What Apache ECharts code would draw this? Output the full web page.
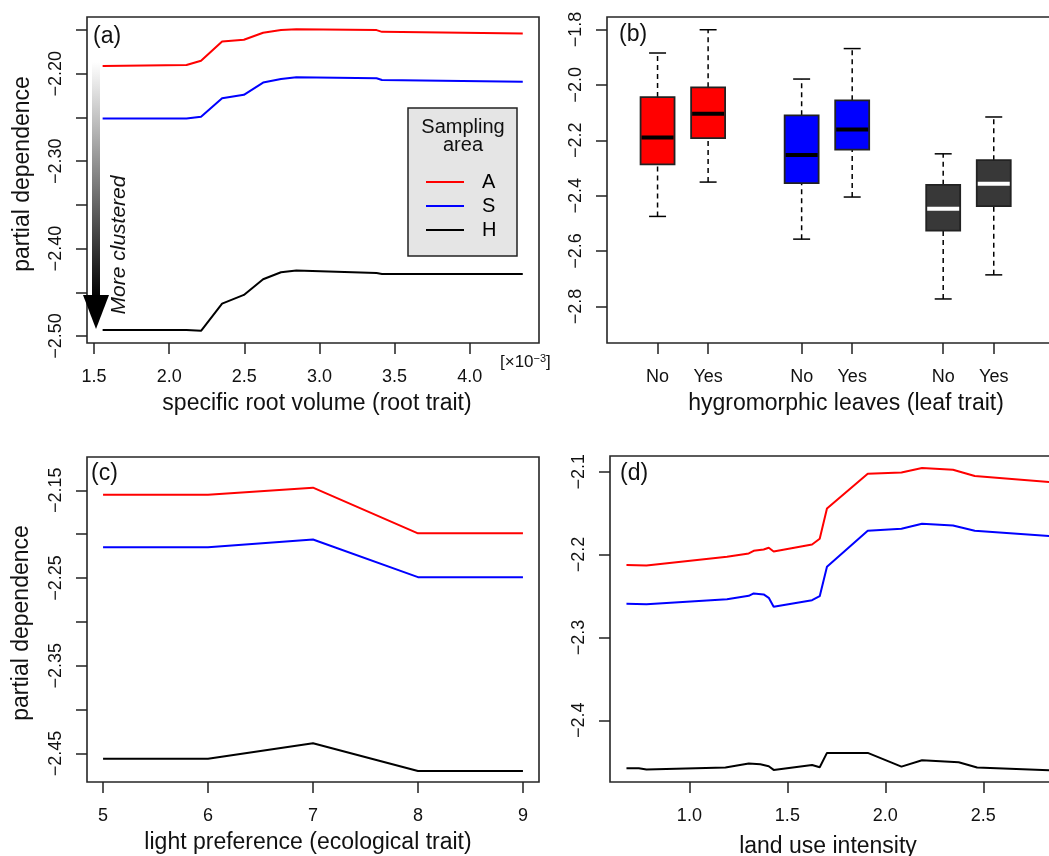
<!DOCTYPE html>
<html>
<head>
<meta charset="utf-8">
<script src="https://cdn.jsdelivr.net/npm/echarts@6/dist/echarts.min.js"></script>
<style>
  html, body { margin: 0; padding: 0; background: #fff; }
  #chart { width: 1049px; height: 856px; }
</style>
</head>
<body>
<div id="chart"></div>
<script>
// (a) specific root volume, x in units of 1e-3
var rootX = [1.557, 2.115, 2.212, 2.352, 2.497, 2.625, 2.744, 2.846, 3.380, 3.416, 4.353];
var rootA = [-2.191, -2.190, -2.185, -2.163, -2.161, -2.153, -2.150, -2.149, -2.150, -2.152, -2.154];
var rootS = [-2.251, -2.251, -2.249, -2.228, -2.224, -2.210, -2.206, -2.204, -2.205, -2.207, -2.209];
var rootH = [-2.493, -2.493, -2.494, -2.463, -2.453, -2.435, -2.427, -2.425, -2.428, -2.429, -2.429];
var rootXTicks = [1.5, 2.0, 2.5, 3.0, 3.5, 4.0];
var rootYTicks = [-2.50, -2.45, -2.40, -2.35, -2.30, -2.25, -2.20, -2.15];
var rootYLabels = [-2.50, -2.40, -2.30, -2.20];

// (b) hygromorphic leaves, boxplots per sampling area
var leafPos = [1, 2, 3.85, 4.85, 6.65, 7.65];
var leafLabels = ['No', 'Yes', 'No', 'Yes', 'No', 'Yes'];
var leafMin = [-2.475, -2.351, -2.557, -2.405, -2.773, -2.686];
var leafQ1 = [-2.287, -2.192, -2.355, -2.234, -2.526, -2.438];
var leafMed = [-2.190, -2.104, -2.253, -2.161, -2.447, -2.357];
var leafQ3 = [-2.044, -2.009, -2.110, -2.056, -2.361, -2.272];
var leafMax = [-1.885, -1.801, -1.979, -1.869, -2.249, -2.116];
var leafYTicks = [-2.8, -2.6, -2.4, -2.2, -2.0, -1.8];

// (c) light preference
var lightX = [5, 6, 7, 8, 9];
var lightA = [-2.155, -2.155, -2.147, -2.199, -2.199];
var lightS = [-2.215, -2.215, -2.206, -2.249, -2.249];
var lightH = [-2.456, -2.456, -2.4385, -2.470, -2.470];
var lightYTicks = [-2.45, -2.40, -2.35, -2.30, -2.25, -2.20, -2.15];
var lightYLabels = [-2.45, -2.35, -2.25, -2.15];

// (d) land use intensity
var landX = [0.679, 0.781, 1.192, 1.303, 1.328, 1.379, 1.405, 1.430, 1.626, 1.665, 1.702, 1.910, 2.082, 2.187, 2.345, 2.456, 2.84];
var landA = [-2.2127, -2.2131, -2.2027, -2.1986, -2.1954, -2.1938, -2.1918, -2.1962, -2.1878, -2.1809, -2.1443, -2.1024, -2.1008, -2.0956, -2.0976, -2.1052, -2.1125];
var landS = [-2.2594, -2.2598, -2.2538, -2.2498, -2.2469, -2.2481, -2.2522, -2.2630, -2.2550, -2.2502, -2.2147, -2.1713, -2.1688, -2.1628, -2.1648, -2.1713, -2.1775];
var landHX = [0.679, 0.742, 0.781, 1.184, 1.303, 1.362, 1.405, 1.430, 1.626, 1.665, 1.702, 1.910, 2.082, 2.187, 2.374, 2.468, 2.84];
var landH = [-2.4579, -2.4579, -2.4595, -2.4571, -2.4523, -2.4531, -2.4555, -2.4599, -2.4539, -2.4567, -2.4394, -2.4394, -2.4559, -2.4482, -2.4506, -2.4571, -2.4604];
var landXTicks = [1.0, 1.5, 2.0, 2.5];
var landYTicks = [-2.4, -2.3, -2.2, -2.1];

var FONT = 'Liberation Sans, Arial, Helvetica, sans-serif';
var areaColors = {A: '#ff0000', S: '#0000ff', H: '#000000'};
var boxFill = ['#ff0000', '#ff0000', '#0000ff', '#0000ff', '#383838', '#383838'];
var boxMedian = ['#000', '#000', '#000', '#000', '#fff', '#fff'];

function fmt(d) {
    return function (v) { return v.toFixed(d).replace('-', '\u2212'); };
}

function pairs(xs, ys) {
    return xs.map(function (x, i) { return [x, ys[i]]; });
}

var tickStyle = {show: true, length: 11, lineStyle: {color: '#222', width: 1.5}};

function xAxis(grid, min, max, ticks, formatter) {
    return {
        type: 'value', gridIndex: grid, min: min, max: max,
        axisLine: {show: false}, splitLine: {show: false},
        axisTick: Object.assign({customValues: ticks}, tickStyle),
        axisLabel: {customValues: ticks, formatter: formatter, fontSize: 18, fontFamily: FONT, color: '#111', margin: 25}
    };
}

function yAxis(grid, min, max, ticks, labels, formatter) {
    return {
        type: 'value', gridIndex: grid, min: min, max: max,
        axisLine: {show: false}, splitLine: {show: false},
        axisTick: Object.assign({customValues: ticks}, tickStyle),
        axisLabel: {customValues: labels, formatter: formatter, rotate: 90, fontSize: 18, fontFamily: FONT, color: '#111', margin: 22}
    };
}

function lineSeries(name, grid, xs, ys) {
    return {
        name: name, type: 'line', xAxisIndex: grid, yAxisIndex: grid,
        data: pairs(xs, ys), showSymbol: false, symbol: 'none',
        color: areaColors[name],
        lineStyle: {width: 2, color: areaColors[name]},
        z: 3
    };
}

function renderBox(params, api) {
    var i = params.dataIndex;
    var x = api.value(0);
    var lo = api.coord([x, api.value(1)]);
    var q1 = api.coord([x, api.value(2)]);
    var md = api.coord([x, api.value(3)]);
    var q3 = api.coord([x, api.value(4)]);
    var hi = api.coord([x, api.value(5)]);
    var half = api.size([0.336, 0])[0];
    var cap = half / 2;
    var dash = {stroke: '#000', lineWidth: 1.5, lineDash: [5, 4]};
    var solid = {stroke: '#000', lineWidth: 1.5};
    return {
        type: 'group',
        children: [
            {type: 'line', shape: {x1: lo[0], y1: lo[1], x2: q1[0], y2: q1[1]}, style: dash},
            {type: 'line', shape: {x1: q3[0], y1: q3[1], x2: hi[0], y2: hi[1]}, style: dash},
            {type: 'line', shape: {x1: lo[0] - cap, y1: lo[1], x2: lo[0] + cap, y2: lo[1]}, style: solid},
            {type: 'line', shape: {x1: hi[0] - cap, y1: hi[1], x2: hi[0] + cap, y2: hi[1]}, style: solid},
            {type: 'rect', shape: {x: q3[0] - half, y: q3[1], width: 2 * half, height: q1[1] - q3[1]},
             style: {fill: boxFill[i], stroke: '#222', lineWidth: 1.8}},
            {type: 'line', shape: {x1: md[0] - half + 1, y1: md[1], x2: md[0] + half - 1, y2: md[1]},
             style: {stroke: boxMedian[i], lineWidth: 4}}
        ]
    };
}

var leafData = leafPos.map(function (p, i) {
    return [p, leafMin[i], leafQ1[i], leafMed[i], leafQ3[i], leafMax[i]];
});

var gridStyle = {show: true, borderColor: '#262626', borderWidth: 1.6, backgroundColor: 'transparent', outerBoundsMode: 'none'};

function text(str, x, y, size, extra) {
    return {
        type: 'text', x: x, y: y,
        style: Object.assign({text: str, font: size + 'px ' + FONT, fill: '#111', align: 'center', verticalAlign: 'middle'}, extra || {})
    };
}

var option = {
    animation: false,
    backgroundColor: '#fff',
    grid: [
        Object.assign({left: 87, top: 17, width: 452, height: 326}, gridStyle),
        Object.assign({left: 607, top: 17, width: 455, height: 326}, gridStyle),
        Object.assign({left: 87, top: 457, width: 452, height: 325}, gridStyle),
        Object.assign({left: 610, top: 456, width: 460, height: 326}, gridStyle)
    ],
    xAxis: [
        xAxis(0, 1.453, 4.461, rootXTicks, fmt(1)),
        xAxis(1, 0, 9, leafPos, function (v) {
            var k = 0;
            leafPos.forEach(function (p, i) { if (Math.abs(p - v) < Math.abs(leafPos[k] - v)) k = i; });
            return leafLabels[k];
        }),
        xAxis(2, 4.847, 9.153, lightX, fmt(0)),
        xAxis(3, 0.595, 2.942, landXTicks, fmt(1))
    ],
    yAxis: [
        yAxis(0, -2.508, -2.135, rootYTicks, rootYLabels, fmt(2)),
        yAxis(1, -2.932, -1.755, leafYTicks, leafYTicks, fmt(1)),
        yAxis(2, -2.4826, -2.112, lightYTicks, lightYLabels, fmt(2)),
        yAxis(3, -2.4745, -2.081, landYTicks, landYTicks, fmt(1))
    ],
    legend: {
        data: ['A', 'S', 'H'],
        orient: 'vertical', left: 426, top: 172, padding: 0,
        icon: 'rect', itemWidth: 38, itemHeight: 2, itemGap: 4,
        itemStyle: {borderWidth: 0},
        selectedMode: false,
        textStyle: {fontSize: 20, fontFamily: FONT, color: '#000', lineHeight: 20, padding: [0, 0, 0, 13]},
        z: 6
    },
    graphic: [
        // legend frame for panel (a)
        {type: 'rect', shape: {x: 408, y: 108, width: 109, height: 148},
         style: {fill: '#e5e5e5', stroke: '#222', lineWidth: 1.5}, z: 5},
        Object.assign(text('Sampling', 463, 127, 20), {z: 6}),
        Object.assign(text('area', 463, 145, 20), {z: 6}),
        // gradient arrow
        {type: 'rect', shape: {x: 92, y: 62, width: 8, height: 236},
         style: {fill: {type: 'linear', x: 0, y: 0, x2: 0, y2: 1,
             colorStops: [{offset: 0, color: '#ffffff'}, {offset: 1, color: '#000000'}]}}, z: 5},
        {type: 'polygon', shape: {points: [[83, 295], [109, 295], [96, 329]]}, style: {fill: '#000'}, z: 5},
        {type: 'text', x: 119, y: 245, rotation: Math.PI / 2,
         style: {text: 'More clustered', font: 'italic 21px ' + FONT, fill: '#111', align: 'center', verticalAlign: 'middle'}, z: 6},
        // panel letters
        text('(a)', 93, 37, 23, {align: 'left'}),
        text('(b)', 619, 35, 23, {align: 'left'}),
        text('(c)', 91, 474, 23, {align: 'left'}),
        text('(d)', 620, 474, 23, {align: 'left'}),
        // axis titles
        Object.assign(text('partial dependence', 23, 174, 23), {rotation: Math.PI / 2}),
        Object.assign(text('partial dependence', 22, 623, 23), {rotation: Math.PI / 2}),
        text('specific root volume (root trait)', 317, 404, 23),
        text('hygromorphic leaves (leaf trait)', 846, 404, 23),
        text('light preference (ecological trait)', 308, 843, 23),
        text('land use intensity', 828, 847, 23),
        {type: 'text', x: 500, y: 362,
         style: {text: '{a|[\u00d710}{b|\u22123}{a|]}', fill: '#111', verticalAlign: 'middle',
             rich: {a: {fontSize: 17, fontFamily: FONT, fill: '#111'},
                    b: {fontSize: 11, fontFamily: FONT, fill: '#111', verticalAlign: 'top'}}}}
    ],
    series: [
        lineSeries('A', 0, rootX, rootA),
        lineSeries('S', 0, rootX, rootS),
        lineSeries('H', 0, rootX, rootH),
        {
            type: 'custom', xAxisIndex: 1, yAxisIndex: 1,
            renderItem: renderBox, data: leafData,
            encode: {x: 0, y: [1, 2, 3, 4, 5]}, z: 3
        },
        lineSeries('A', 2, lightX, lightA),
        lineSeries('S', 2, lightX, lightS),
        lineSeries('H', 2, lightX, lightH),
        lineSeries('A', 3, landX, landA),
        lineSeries('S', 3, landX, landS),
        lineSeries('H', 3, landHX, landH)
    ]
};

var myChart = echarts.init(document.getElementById('chart'));
myChart.setOption(option);
</script>
</body>
</html>
